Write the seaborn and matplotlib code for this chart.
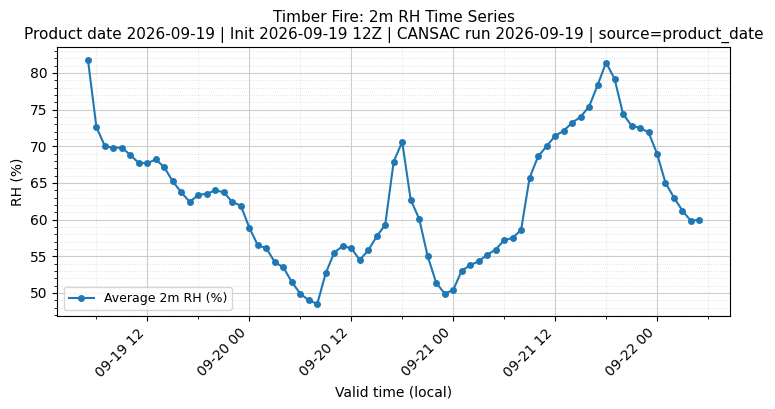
import numpy as np
import pandas as pd
import seaborn as sns
import matplotlib.pyplot as plt
import matplotlib.dates as mdates
from matplotlib.ticker import AutoMinorLocator


# hourly average 2m RH, 2026-09-19 05:00 -> 2026-09-22 05:00 (local)
start_time = '2026-09-19 05:00'
rh_values = [
    81.8, 72.6, 70.0, 69.8, 69.8, 68.8, 67.7, 67.7, 68.2, 67.1,
    65.2, 63.7, 62.4, 63.4, 63.5, 64.0, 63.7, 62.4, 61.9, 58.9,
    56.5, 56.1, 54.2, 53.5, 51.5, 49.9, 49.0, 48.5, 52.7, 55.5,
    56.4, 56.1, 54.5, 55.8, 57.7, 59.3, 67.9, 70.6, 62.7, 60.1,
    55.0, 51.4, 49.9, 50.4, 53.0, 53.8, 54.3, 55.2, 55.9, 57.2,
    57.5, 58.6, 65.7, 68.6, 70.0, 71.4, 72.1, 73.2, 74.0, 75.4,
    78.3, 81.4, 79.2, 74.4, 72.8, 72.5, 71.9, 69.0, 65.0, 63.0,
    61.2, 59.8, 60.0,
]
label = 'Average 2m RH (%)'
title = ('Timber Fire: 2m RH Time Series\n'
         'Product date 2026-09-19 | Init 2026-09-19 12Z | '
         'CANSAC run 2026-09-19 | source=product_date')

df = pd.DataFrame({
    'time': pd.date_range(start_time, periods=len(rh_values), freq='h'),
    'rh': rh_values,
})

fig, ax = plt.subplots(figsize=(7.75, 4.09), dpi=100)
fig.subplots_adjust(left=0.074, right=0.942, top=0.884, bottom=0.227)

sns.lineplot(data=df, x='time', y='rh', marker='o', markersize=5,
             markeredgewidth=0, color='tab:blue', linewidth=1.5,
             label=label, ax=ax)

ax.xaxis.set_major_locator(mdates.HourLocator(byhour=[0, 12]))
ax.xaxis.set_minor_locator(mdates.HourLocator(byhour=[0, 6, 12, 18]))
ax.xaxis.set_major_formatter(mdates.DateFormatter('%m-%d %H'))
ax.yaxis.set_minor_locator(AutoMinorLocator())
plt.setp(ax.get_xticklabels(), rotation=45, ha='right')

ax.grid(which='major', color='#cccccc', linewidth=0.8)
ax.grid(which='minor', color='#dddddd', linestyle=':', linewidth=0.6)

ax.set_title(title, fontsize=11)
ax.set_xlabel('Valid time (local)')
ax.set_ylabel('RH (%)')
ax.legend(loc='lower left', fontsize=9)

fig.savefig('out.png', dpi=100)
